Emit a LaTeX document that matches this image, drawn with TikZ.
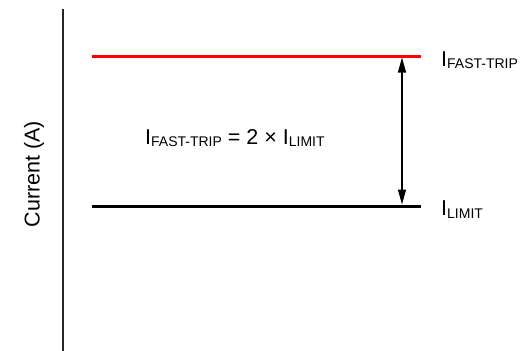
\documentclass[tikz,border=0pt]{standalone}
\usepackage{fontspec}
\setmainfont{Liberation Sans}
\usetikzlibrary{arrows.meta}
\newcommand{\isub}[1]{I\raisebox{-2.5pt}{\fontsize{14}{14}\selectfont #1}}
\tikzset{
  lbl/.style={inner sep=0pt,font=\fontsize{21.5}{25}\selectfont},
  level/.style={line width=3pt},
}
\begin{document}
\begin{tikzpicture}[x=1pt,y=-1pt]
\useasboundingbox (0,0) rectangle (531,351);
% axis
\coordinate (axtop) at (63,9);
\coordinate (axbot) at (63,351);
\draw[line width=1.3pt,black!85] (axtop) -- (axbot);
\node[lbl,rotate=90,anchor=base] (ylab) at (39.5,174) {Current (A)};
% levels
\coordinate (fastl) at (92,56);
\coordinate (fastr) at (421,56);
\coordinate (liml) at (92,206);
\coordinate (limr) at (421,206);
\draw[level,red] (fastl) -- (fastr);
\draw[level] (liml) -- (limr);
\node[lbl,anchor=base west] (fastlab) at (441,66) {\isub{FAST-TRIP}};
\node[lbl,anchor=base west] (limlab) at (441,215.5) {\isub{LIMIT}};
% ratio
\coordinate (arrtop) at (402,57.5);
\coordinate (arrbot) at (402,204.5);
\draw[line width=1.2pt,{Triangle[length=15pt,width=8pt]}-{Triangle[length=15pt,width=8pt]}] (arrtop) -- (arrbot);
\node[lbl,anchor=base west] (eq) at (145,144) {\isub{FAST-TRIP} = 2 × \isub{LIMIT}};
\end{tikzpicture}
\end{document}
